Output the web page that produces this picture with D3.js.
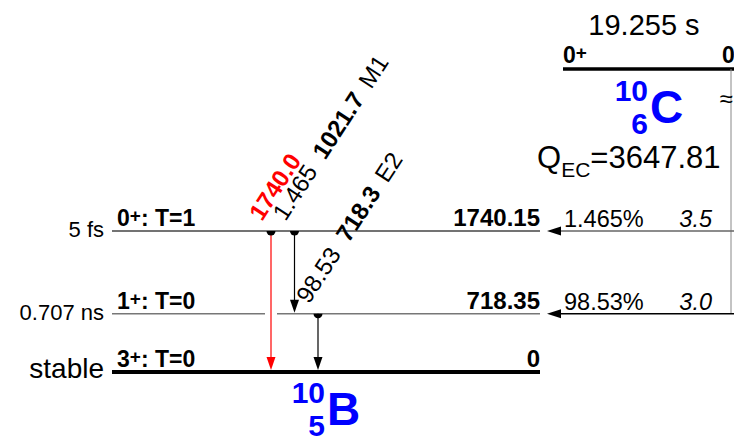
<!DOCTYPE html>
<html>
<head>
<meta charset="utf-8">
<script src="https://cdn.jsdelivr.net/npm/d3@7"></script>
<style>
  body { margin: 0; background: #fff; }
  svg { display: block; }
</style>
</head>
<body>
<div id="chart"></div>
<script>
// level scheme data: 10C -> 10B (EC decay)
const levelEnergies = [1740.15, 718.35, 0];
const levelLabels = ['0+|: T=1', '1+|: T=0', '3+|: T=0'];
const levelHalfLives = ['5 fs', '0.707 ns', 'stable'];
const levelEnergyText = ['1740.15', '718.35', '0'];

const gammaNames = ['g1740', 'g1021', 'g718'];
const gammaEnergies = ['1740.0', '1021.7', '718.3'];
const gammaIntensities = ['', '1.465', '98.53'];
const gammaMultipolarities = ['', 'M1', 'E2'];
const gammaFrom = [1740.15, 1740.15, 718.35];
const gammaTo = [0, 718.35, 0];
const gammaColors = ['#ff0000', '#000', '#000'];

const betaLevels = [1740.15, 718.35];
const betaBranches = ['1.465%', '98.53%'];
const betaLogft = ['3.5', '3.0'];

const parentHalfLife = '19.255 s';
const parentSpin = '0+';
const qValue = '3647.81';

const width = 734, height = 441;
const font = "'Liberation Sans', Arial, Helvetica, sans-serif";

const svg = d3.select('#chart').append('svg')
  .attr('width', width)
  .attr('height', height)
  .attr('viewBox', `0 0 ${width} ${height}`);

svg.append('rect').attr('width', width).attr('height', height).attr('fill', '#fff');

const y = d3.scaleLinear().domain([0, 1740.15]).range([372, 231]);
const xGamma = d3.scalePoint().domain(gammaNames).range([271, 318]);

const levelLeft = 112, levelRight = 540;
const parentY = 69, parentLeft = 563, betaX = 731;

// levels
levelEnergies.forEach((e, i) => {
  let yy = y(e);
  let isGround = e === 0;
  let stroke = isGround ? '#000' : (i === 0 ? '#444' : '#777');
  let sw = isGround ? 4 : 1.5;
  // gaps where a crossing gamma passes
  let gaps = gammaNames.filter((g, j) => gammaFrom[j] > e && gammaTo[j] < e).map(g => xGamma(g));
  let segs = [];
  let start = levelLeft;
  gaps.sort((a, b) => a - b).forEach(gx => { segs.push([start, gx - 6]); start = gx + 6; });
  segs.push([start, levelRight]);
  segs.forEach(s => {
    svg.append('line')
      .attr('x1', s[0]).attr('x2', s[1])
      .attr('y1', yy).attr('y2', yy)
      .attr('stroke', stroke).attr('stroke-width', sw);
  });

  // half-life
  svg.append('text')
    .attr('x', 104).attr('y', yy + 6)
    .attr('text-anchor', 'end')
    .attr('font-family', font)
    .attr('font-size', isGround ? '28px' : '22px')
    .text(levelHalfLives[i]);

  // spin label
  let parts = levelLabels[i].split('|');
  let t = svg.append('text')
    .attr('x', 117).attr('y', yy - 5)
    .attr('font-family', font)
    .attr('font-weight', 'bold')
    .attr('font-size', '23px');
  t.append('tspan').text(parts[0].slice(0, -1));
  t.append('tspan').attr('font-size', '19px').attr('dy', -4).text('+');
  t.append('tspan').attr('dy', 4).text(parts[1]);

  // energy
  svg.append('text')
    .attr('x', levelRight).attr('y', yy - 5)
    .attr('text-anchor', 'end')
    .attr('font-family', font)
    .attr('font-weight', 'bold')
    .attr('font-size', '24px')
    .text(levelEnergyText[i]);
});

// gamma transitions
gammaNames.forEach((g, i) => {
  let gx = xGamma(g);
  let y1 = y(gammaFrom[i]);
  let y2 = y(gammaTo[i]) - (gammaTo[i] === 0 ? 2 : 1);
  let headLen = 13, headW = 4.5;

  svg.append('line')
    .attr('x1', gx).attr('x2', gx)
    .attr('y1', y1).attr('y2', y2 - headLen + 1)
    .attr('stroke', gammaColors[i]).attr('stroke-width', 1.2);

  svg.append('path')
    .attr('d', `M${gx - headW},${y2 - headLen} L${gx + headW},${y2 - headLen} L${gx},${y2} Z`)
    .attr('fill', gammaColors[i]);

  // dot on start level
  let r = 4.5;
  svg.append('path')
    .attr('d', `M${gx - r},${y1} A${r},${r} 0 0 0 ${gx + r},${y1} Z`)
    .attr('fill', '#000');

  // rotated label
  let lbl = svg.append('text')
    .attr('transform', `translate(${gx - 9},${y1 - 9}) rotate(-57)`)
    .attr('font-family', font)
    .attr('font-size', '24px')
    .attr('fill', gammaColors[i]);
  if (gammaIntensities[i]) {
    lbl.append('tspan').text(gammaIntensities[i]);
    lbl.append('tspan').attr('dx', 13).attr('font-weight', 'bold').text(gammaEnergies[i]);
  } else {
    lbl.append('tspan').attr('font-weight', 'bold').text(gammaEnergies[i]);
  }
  if (gammaMultipolarities[i]) {
    lbl.append('tspan').attr('dx', 11).text(gammaMultipolarities[i]);
  }
});

// parent level
svg.append('line')
  .attr('x1', parentLeft).attr('x2', width + 10)
  .attr('y1', parentY).attr('y2', parentY)
  .attr('stroke', '#000').attr('stroke-width', 3.5);

svg.append('text')
  .attr('x', parentLeft).attr('y', parentY - 6)
  .attr('font-family', font).attr('font-weight', 'bold').attr('font-size', '23px')
  .call(t => {
    t.append('tspan').text(parentSpin.slice(0, -1));
    t.append('tspan').attr('font-size', '19px').attr('dy', -4).text('+');
  });

svg.append('text')
  .attr('x', 722).attr('y', parentY - 6)
  .attr('font-family', font).attr('font-weight', 'bold').attr('font-size', '23px')
  .text('0');

svg.append('text')
  .attr('x', 644).attr('y', 35)
  .attr('text-anchor', 'middle')
  .attr('font-family', font).attr('font-size', '29px')
  .text(parentHalfLife);

// vertical decay line with break mark
svg.append('line')
  .attr('x1', betaX).attr('x2', betaX)
  .attr('y1', parentY).attr('y2', y(betaLevels[betaLevels.length - 1]))
  .attr('stroke', '#888').attr('stroke-width', 1);

svg.append('text')
  .attr('x', 726).attr('y', 107)
  .attr('text-anchor', 'middle')
  .attr('font-family', font).attr('font-size', '24px')
  .attr('fill', '#000')
  .text('≈');

// beta feeding arrows
betaLevels.forEach((e, i) => {
  let yy = y(e);
  let tip = 547, headLen = 14, headW = 4.5;
  svg.append('line')
    .attr('x1', tip + headLen - 1).attr('x2', width + 5)
    .attr('y1', yy).attr('y2', yy)
    .attr('stroke', i === 0 ? '#666' : '#000').attr('stroke-width', 1.4);
  svg.append('path')
    .attr('d', `M${tip},${yy} L${tip + headLen},${yy - headW} L${tip + headLen},${yy + headW} Z`)
    .attr('fill', '#000');

  svg.append('text')
    .attr('x', 564).attr('y', yy - 4)
    .attr('font-family', font).attr('font-size', '23.5px')
    .text(betaBranches[i]);

  svg.append('text')
    .attr('x', 712).attr('y', yy - 4)
    .attr('text-anchor', 'end')
    .attr('font-family', font).attr('font-size', '23.5px').attr('font-style', 'italic')
    .text(betaLogft[i]);
});

// Q value
svg.append('text')
  .attr('x', 537).attr('y', 168)
  .attr('font-family', font).attr('font-size', '31px')
  .call(t => {
    t.append('tspan').text('Q');
    t.append('tspan').attr('font-size', '21px').attr('dy', 9).text('EC');
    t.append('tspan').attr('dy', -9).text('=' + qValue);
  });

// nuclide labels
function nuclide(A, Z, sym, xr, yb) {
  let g = svg.append('g')
    .attr('font-family', font).attr('font-weight', 'bold').attr('fill', '#0000ff');
  g.append('text').attr('x', xr).attr('y', yb - 22).attr('text-anchor', 'end').attr('font-size', '30px').text(A);
  g.append('text').attr('x', xr).attr('y', yb + 11).attr('text-anchor', 'end').attr('font-size', '30px').text(Z);
  g.append('text').attr('x', xr + 2).attr('y', yb).attr('font-size', '46px').text(sym);
}
nuclide('10', '6', 'C', 648, 123);
nuclide('10', '5', 'B', 325, 425);
</script>
</body>
</html>
